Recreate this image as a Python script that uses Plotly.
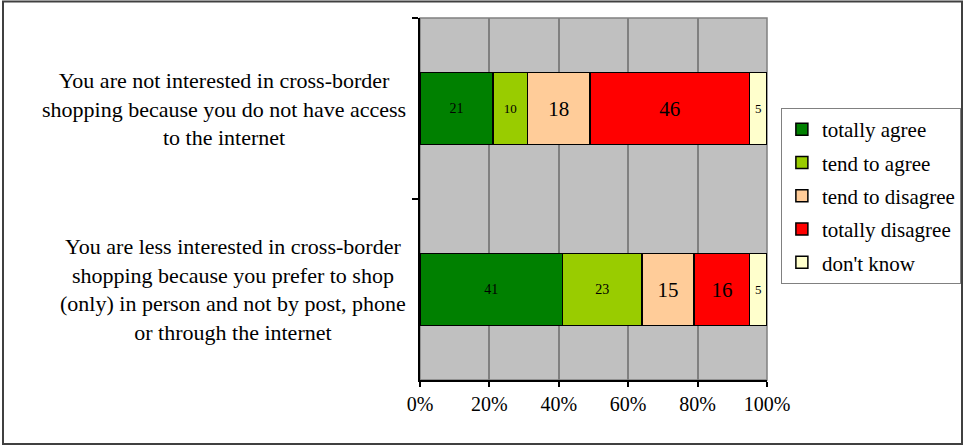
import plotly.graph_objects as go

categories = [
    "You are not interested in cross-border<br>shopping because you do not have access<br>to the internet",
    "You are less interested in cross-border<br>shopping because you prefer to shop<br>(only) in person and not by post, phone<br>or through the internet",
]
series_names = ["totally agree", "tend to agree", "tend to disagree", "totally disagree", "don't know"]
totally_agree = [21, 41]
tend_to_agree = [10, 23]
tend_to_disagree = [18, 15]
totally_disagree = [46, 16]
dont_know = [5, 5]
x_tick_vals = [0, 0.2, 0.4, 0.6, 0.8, 1.0]
x_tick_text = ["0%", "20%", "40%", "60%", "80%", "100%"]

series_values = [totally_agree, tend_to_agree, tend_to_disagree, totally_disagree, dont_know]
colors = ["#008000", "#99CC00", "#FFCC99", "#FF0000", "#FFFFCC"]
label_sizes = [[14, 14], [13, 14], [21, 21], [21, 21], [13, 13]]

FONT = "Liberation Serif, Times New Roman, serif"

fig = go.Figure()
for i, (name, vals) in enumerate(zip(series_names, series_values)):
    fig.add_trace(go.Bar(
        y=categories,
        x=[v / 100 for v in vals],
        orientation="h",
        name=name,
        legendgroup="g%d" % i,
        marker=dict(color=colors[i], line=dict(color="black", width=1.5)),
        text=[str(v) for v in vals],
        textposition="inside",
        insidetextanchor="middle",
        textangle=0,
        textfont=dict(family=FONT, color="black", size=label_sizes[i]),
        hoverinfo="skip",
    ))

# y category labels, centered multi-line text
for c in categories:
    fig.add_annotation(
        x=-0.035, xref="paper", y=c, yref="y",
        text=c, showarrow=False, xanchor="right", yanchor="middle",
        align="center", font=dict(family=FONT, size=22, color="black"),
    )

fig.update_layout(
    width=964, height=447,
    barmode="stack",
    bargap=0.6,
    plot_bgcolor="#C0C0C0",
    paper_bgcolor="white",
    margin=dict(l=420, r=197, t=18, b=67, autoexpand=False),
    font=dict(family=FONT, size=20, color="black"),
    legend=dict(
        x=1.04, y=0.7514, xanchor="left", yanchor="top",
        bordercolor="#808080", borderwidth=1,
        font=dict(family=FONT, size=21, color="black"),
        tracegroupgap=3,
        traceorder="grouped",
    ),
    shapes=[
        dict(type="rect", xref="paper", yref="paper", x0=0, x1=1, y0=0, y1=1,
             line=dict(color="#808080", width=1.5), layer="below"),
        dict(type="rect", xref="paper", yref="paper",
             x0=(3 - 420) / 347, x1=(962 - 420) / 347,
             y0=(380 - 444) / 362, y1=(380 - 1.5) / 362,
             line=dict(color="#404040", width=2), fillcolor="rgba(0,0,0,0)"),
    ],
)
fig.update_xaxes(
    range=[0, 1], tickvals=x_tick_vals, ticktext=x_tick_text,
    showgrid=True, gridcolor="#808080", gridwidth=1.5, zeroline=False,
    showline=True, linecolor="black", linewidth=1.5,
    ticks="outside", ticklen=5, tickcolor="black", tickwidth=1.5,
    tickfont=dict(family=FONT, size=20), fixedrange=True,
)
fig.update_yaxes(
    categoryorder="array", categoryarray=categories, autorange="reversed",
    showticklabels=False, tickson="boundaries",
    ticks="outside", ticklen=6, tickcolor="black", tickwidth=1.5,
    showline=True, linecolor="black", linewidth=1.5,
    showgrid=False, zeroline=False, fixedrange=True,
)

fig.write_html("out.html", config={"displayModeBar": False},
               post_script="document.body.style.margin='0px';document.body.style.overflow='hidden';")
